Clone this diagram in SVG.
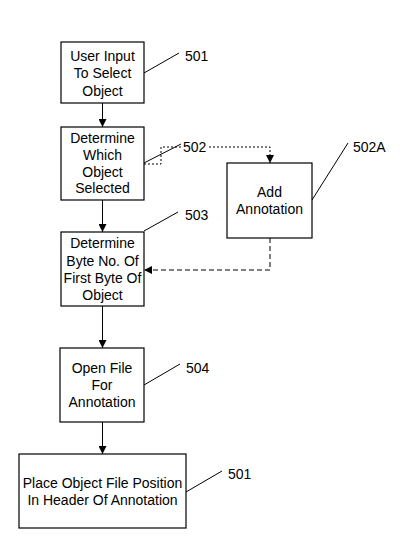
<svg xmlns="http://www.w3.org/2000/svg" width="400" height="550" viewBox="0 0 400 550">
<defs>
<marker id="ah" viewBox="0 0 10 10" refX="10" refY="5" markerWidth="8" markerHeight="8" markerUnits="userSpaceOnUse" orient="auto">
<path d="M0,0 L10,5 L0,10 z" fill="#000"/>
</marker>
</defs>
<style>
.box{fill:#fff;stroke:#000;stroke-width:1.2}
.t{font-family:"Liberation Sans",Arial,sans-serif;font-size:14px;fill:#000;text-anchor:middle}
.lbl{font-family:"Liberation Sans",Arial,sans-serif;font-size:14px;fill:#000}
.ln{stroke:#000;stroke-width:1;fill:none}
.dot{stroke:#000;stroke-width:1;fill:none;stroke-dasharray:2,2}
.dash{stroke:#000;stroke-width:1;fill:none;stroke-dasharray:5,3}
</style>
<rect width="400" height="550" fill="#fff"/>
<g id="connectors">
<line class="ln" x1="102.5" y1="103" x2="102.5" y2="127" marker-end="url(#ah)"/>
<line class="ln" x1="102.5" y1="200" x2="102.5" y2="232" marker-end="url(#ah)"/>
<line class="ln" x1="102.5" y1="306" x2="102.5" y2="348" marker-end="url(#ah)"/>
<line class="ln" x1="102.5" y1="422" x2="102.5" y2="454" marker-end="url(#ah)"/>
<path class="dot" d="M144,164 H161 V147 H182"/>
<path class="dot" d="M209,147 H270 V163" marker-end="url(#ah)"/>
<path class="dash" d="M270,238 V270 H144" marker-end="url(#ah)"/>
</g>
<g id="n501">
<rect class="box" x="61" y="42" width="83" height="61"/>
<text class="t" x="102.5" y="61">User Input</text>
<text class="t" x="102.5" y="78">To Select</text>
<text class="t" x="102.5" y="96">Object</text>
<line class="ln" x1="144" y1="73" x2="179" y2="53"/>
<text class="lbl" x="185" y="61">501</text>
</g>
<g id="n502">
<rect class="box" x="61" y="127" width="83" height="73"/>
<text class="t" x="102.5" y="143">Determine</text>
<text class="t" x="102.5" y="160">Which</text>
<text class="t" x="102.5" y="177">Object</text>
<text class="t" x="102.5" y="193">Selected</text>
<line class="ln" x1="144" y1="163" x2="181" y2="144"/>
<text class="lbl" x="183" y="152">502</text>
</g>
<g id="n502A">
<rect class="box" x="227" y="163" width="85" height="75"/>
<text class="t" x="269.5" y="197">Add</text>
<text class="t" x="269.5" y="214">Annotation</text>
<line class="ln" x1="312" y1="200" x2="348" y2="143"/>
<text class="lbl" x="353" y="152">502A</text>
</g>
<g id="n503">
<rect class="box" x="61" y="232" width="83" height="74"/>
<text class="t" x="102.5" y="248">Determine</text>
<text class="t" x="102.5" y="266">Byte No. Of</text>
<text class="t" x="102.5" y="283">First Byte Of</text>
<text class="t" x="102.5" y="300">Object</text>
<line class="ln" x1="144" y1="231" x2="178" y2="212"/>
<text class="lbl" x="185" y="220">503</text>
</g>
<g id="n504">
<rect class="box" x="60" y="348" width="84" height="74"/>
<text class="t" x="102" y="373">Open File</text>
<text class="t" x="102" y="390">For</text>
<text class="t" x="102" y="407">Annotation</text>
<line class="ln" x1="144" y1="385" x2="180" y2="364"/>
<text class="lbl" x="186" y="373">504</text>
</g>
<g id="n501b">
<rect class="box" x="19" y="454" width="167" height="74"/>
<text class="t" x="102.5" y="488">Place Object File Position</text>
<text class="t" x="102.5" y="505">In Header Of Annotation</text>
<line class="ln" x1="186" y1="492" x2="222" y2="471"/>
<text class="lbl" x="228" y="479">501</text>
</g>
</svg>
